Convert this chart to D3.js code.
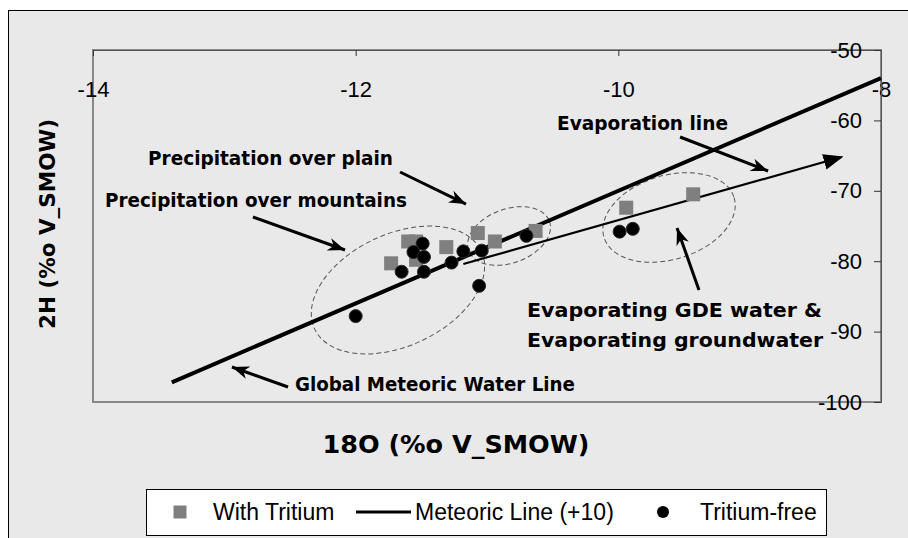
<!DOCTYPE html>
<html>
<head>
<meta charset="utf-8">
<script src="https://cdn.jsdelivr.net/npm/d3@7"></script>
<style>
  body { margin: 0; background: #fff; }
  svg { display: block; }
</style>
</head>
<body>
<svg id="chart" width="908" height="538"></svg>
<script>
// Stable isotope samples, per mil vs V-SMOW
const withTritiumO18 = [-11.73, -11.60, -11.54, -11.54, -11.31, -11.07, -10.94, -10.63, -9.94, -9.43];
const withTritiumH2  = [-80.3, -77.2, -77.2, -79.8, -78.0, -76.0, -77.2, -75.7, -72.4, -70.5];

const tritiumFreeO18 = [-11.49, -11.56, -11.48, -11.65, -11.48, -11.27, -11.18, -11.04, -11.06, -12.00, -10.70, -9.99, -9.89];
const tritiumFreeH2  = [-77.5, -78.7, -79.4, -81.5, -81.5, -80.2, -78.6, -78.5, -83.5, -87.8, -76.4, -75.8, -75.4];

// Global meteoric water line (d-excess +10) end points
const meteoricO18 = [-13.4, -8.0];
const meteoricH2  = [-97.2, -54.0];

// Local evaporation trend end points
const evaporationO18 = [-11.18, -8.30];
const evaporationH2  = [-80.4, -65.2];

const xTicks = [-14, -12, -10, -8];
const yTicks = [-50, -60, -70, -80, -90, -100];
const xTitle = "18O (%o V_SMOW)";
const yTitle = "2H (%o V_SMOW)";
const legendLabels = ["With Tritium", "Meteoric Line (+10)", "Tritium-free"];

// Callouts, anchored in data units
const noteTexts = [
  { text: "Precipitation over plain",     o18: -13.581, h2: -66.34, len: 245 },
  { text: "Precipitation over mountains", o18: -13.909, h2: -72.30, len: 302 },
  { text: "Evaporation line",             o18: -10.467, h2: -61.36, len: 171 },
  { text: "Evaporating GDE water &",      o18: -10.695, h2: -87.93, len: 295 },
  { text: "Evaporating groundwater",      o18: -10.695, h2: -92.19, len: 296 },
  { text: "Global Meteoric Water Line",   o18: -12.462, h2: -98.44, len: 280 }
];
const noteArrows = [
  { o1: -11.662, h1: -67.33, o2: -11.160, h2: -71.88 },
  { o1: -12.782, h1: -73.72, o2: -12.081, h2: -78.41 },
  { o1: -9.530,  h1: -62.36, o2: -8.860,  h2: -67.19 },
  { o1: -9.386,  h1: -84.09, o2: -9.553,  h2: -75.28 },
  { o1: -12.515, h1: -97.87, o2: -12.942, h2: -95.03 }
];
const groupRings = [
  { o18: -11.678, h2: -84.09, rx: 92, ry: 56, angle: -25 },
  { o18: -10.832, h2: -76.42, rx: 43, ry: 27, angle: -20 },
  { o18: -9.614,  h2: -73.79, rx: 68, ry: 42, angle: -17 }
];

const svg = d3.select("#chart");

// chart frame
svg.append("rect")
  .attr("x", 8.5).attr("y", 10.5)
  .attr("width", 1000).attr("height", 1000)
  .attr("fill", "#e9e9e9").attr("stroke", "#000").attr("stroke-width", 1);

const x = d3.scaleLinear().domain([-14, -8]).range([93, 881]);
const y = d3.scaleLinear().domain([-100, -50]).range([402, 50]);

// markers
const defs = svg.append("defs");
defs.append("marker")
  .attr("id", "head").attr("markerUnits", "userSpaceOnUse")
  .attr("viewBox", "-4 -7 18 14").attr("refX", 13).attr("refY", 0)
  .attr("markerWidth", 18).attr("markerHeight", 14).attr("orient", "auto")
  .append("path").attr("d", "M-4,-6.5 L13,0 L-4,6.5 L1,0 Z").attr("fill", "#000");
defs.append("marker")
  .attr("id", "bighead").attr("markerUnits", "userSpaceOnUse")
  .attr("viewBox", "0 -9 20 18").attr("refX", 18).attr("refY", 0)
  .attr("markerWidth", 20).attr("markerHeight", 18).attr("orient", "auto")
  .append("path").attr("d", "M0,-8 L20,0 L0,8 Z").attr("fill", "#000");

// plot box
svg.append("rect")
  .attr("x", x(-14)).attr("y", y(-50))
  .attr("width", x(-8) - x(-14)).attr("height", y(-100) - y(-50))
  .attr("fill", "none").attr("stroke", "#888").attr("stroke-width", 2);

// x axis along the top edge
const xAxis = svg.append("g")
  .attr("transform", `translate(0,${y(-50)})`)
  .call(d3.axisBottom(x).tickValues(xTicks).tickSize(6).tickPadding(25)
    .tickFormat(d => String(d)));
// y axis along the right edge
const yAxis = svg.append("g")
  .attr("transform", `translate(${x(-8)},0)`)
  .call(d3.axisLeft(y).tickValues(yTicks).tickSize(7).tickPadding(12)
    .tickFormat(d => String(d)));
[xAxis, yAxis].forEach(g => {
  g.select(".domain").attr("stroke", "#555").attr("stroke-width", 1);
  g.selectAll(".tick line").attr("stroke", "#333");
  g.selectAll(".tick text")
    .attr("fill", "#000")
    .style("font-family", "'Liberation Sans', Arial, sans-serif")
    .style("font-size", "22px");
});

// axis titles
const boldFont = "'DejaVu Sans', sans-serif";
svg.append("text")
  .attr("x", 456).attr("y", 453)
  .attr("text-anchor", "middle")
  .style("font-family", boldFont).style("font-weight", "bold").style("font-size", "24px")
  .attr("textLength", 267).attr("lengthAdjust", "spacingAndGlyphs")
  .text(xTitle);
svg.append("text")
  .attr("transform", "translate(55,224) rotate(-90)")
  .attr("text-anchor", "middle")
  .style("font-family", boldFont).style("font-weight", "bold").style("font-size", "21px")
  .attr("textLength", 210).attr("lengthAdjust", "spacingAndGlyphs")
  .text(yTitle);

// dashed group outlines
svg.append("g").selectAll("g")
  .data(groupRings).join("g")
  .attr("transform", d => `translate(${x(d.o18)},${y(d.h2)}) rotate(${d.angle})`)
  .append("ellipse")
  .attr("rx", d => d.rx).attr("ry", d => d.ry)
  .attr("fill", "none").attr("stroke", "#555").attr("stroke-width", 1)
  .attr("stroke-dasharray", "5,3");

const line = d3.line().x(d => x(d[0])).y(d => y(d[1]));

// meteoric line
svg.append("path")
  .attr("d", line(d3.zip(meteoricO18, meteoricH2)))
  .attr("fill", "none").attr("stroke", "#000").attr("stroke-width", 4);

// evaporation line
svg.append("path")
  .attr("d", line(d3.zip(evaporationO18, evaporationH2)))
  .attr("fill", "none").attr("stroke", "#000").attr("stroke-width", 2.2)
  .attr("marker-end", "url(#bighead)");

// samples with tritium
const sq = 14;
svg.append("g").selectAll("rect")
  .data(d3.zip(withTritiumO18, withTritiumH2)).join("rect")
  .attr("x", d => x(d[0]) - sq / 2).attr("y", d => y(d[1]) - sq / 2)
  .attr("width", sq).attr("height", sq)
  .attr("fill", "#7f7f7f");

// tritium-free samples
svg.append("g").selectAll("circle")
  .data(d3.zip(tritiumFreeO18, tritiumFreeH2)).join("circle")
  .attr("cx", d => x(d[0])).attr("cy", d => y(d[1])).attr("r", 6.5)
  .attr("fill", "#000").attr("stroke", "#2a2a2a").attr("stroke-width", 1);

// callout arrows
svg.append("g").selectAll("line")
  .data(noteArrows).join("line")
  .attr("x1", d => x(d.o1)).attr("y1", d => y(d.h1))
  .attr("x2", d => x(d.o2)).attr("y2", d => y(d.h2))
  .attr("stroke", "#000").attr("stroke-width", 3)
  .attr("marker-end", "url(#head)");

// callout labels
svg.append("g").selectAll("text")
  .data(noteTexts).join("text")
  .attr("x", d => x(d.o18)).attr("y", d => y(d.h2))
  .attr("textLength", d => d.len).attr("lengthAdjust", "spacingAndGlyphs")
  .style("font-family", boldFont).style("font-weight", "bold").style("font-size", "19px")
  .attr("fill", "#000")
  .text(d => d.text);

// legend
const legend = svg.append("g");
legend.append("rect")
  .attr("x", 146.5).attr("y", 489.5).attr("width", 680).attr("height", 46)
  .attr("fill", "#fff").attr("stroke", "#000").attr("stroke-width", 1);
const ly = 512;
legend.append("rect")
  .attr("x", 180 - 6.5).attr("y", ly - 6.5).attr("width", 13).attr("height", 13)
  .attr("fill", "#7f7f7f");
legend.append("line")
  .attr("x1", 356).attr("x2", 411).attr("y1", ly).attr("y2", ly)
  .attr("stroke", "#000").attr("stroke-width", 3);
legend.append("circle")
  .attr("cx", 663).attr("cy", ly).attr("r", 6).attr("fill", "#000");
const legendX = [213, 415, 700];
legend.selectAll("text.lg")
  .data(legendLabels).join("text")
  .attr("class", "lg")
  .attr("x", (d, i) => legendX[i]).attr("y", ly + 8)
  .style("font-family", "'Liberation Sans', Arial, sans-serif").style("font-size", "23px")
  .attr("fill", "#000")
  .text(d => d);
</script>
</body>
</html>
